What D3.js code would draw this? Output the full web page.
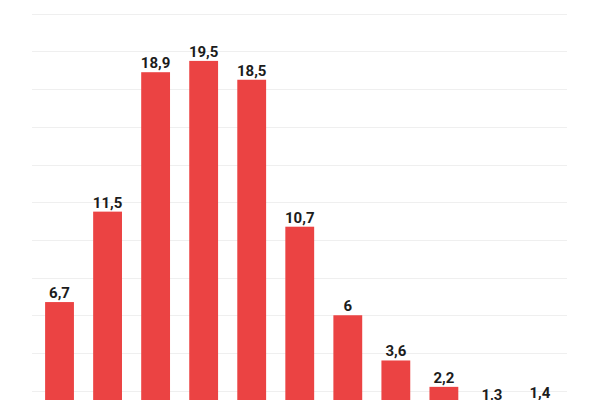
<!DOCTYPE html>
<html>
<head>
<meta charset="utf-8">
<script src="https://cdn.jsdelivr.net/npm/d3@7"></script>
<style>
  html, body { margin: 0; padding: 0; background: #ffffff; overflow: hidden; }
  svg { display: block; }
</style>
</head>
<body>
<svg id="chart" width="600" height="400"></svg>
<script>
const categories = ["1","2","3","4","5","6","7","8","9","10","11"];
const values = [6.7, 11.5, 18.9, 19.5, 18.5, 10.7, 6, 3.6, 2.2, 1.3, 1.4];
const labels = ["6,7","11,5","18,9","19,5","18,5","10,7","6","3,6","2,2","1,3","1,4"];
const yTicks = [0, 2, 4, 6, 8, 10, 12, 14, 16, 18, 20, 22];

const svg = d3.select("#chart");

const x = d3.scaleBand()
  .domain(categories)
  .range([35.5, 564])
  .paddingInner(0.4)
  .paddingOuter(0.2);

const y = d3.scaleLinear()
  .domain([0, 22])
  .range([428.3, 13.8]);

// gridlines
svg.append("g")
  .selectAll("line")
  .data(yTicks)
  .join("line")
  .attr("x1", 32)
  .attr("x2", 567)
  .attr("y1", d => Math.round(y(d)) + 0.5)
  .attr("y2", d => Math.round(y(d)) + 0.5)
  .attr("stroke", "#efefef")
  .attr("stroke-width", 1);

// bars
svg.append("g")
  .selectAll("rect")
  .data(values)
  .join("rect")
  .attr("x", (d, i) => x(categories[i]))
  .attr("width", x.bandwidth())
  .attr("y", d => y(d))
  .attr("height", d => y(0) - y(d))
  .attr("fill", "#eb4343");

// labels
svg.append("g")
  .selectAll("text")
  .data(values)
  .join("text")
  .attr("x", (d, i) => x(categories[i]) + x.bandwidth() / 2)
  .attr("y", d => y(d) - 4)
  .attr("text-anchor", "middle")
  .attr("font-family", "Roboto, 'Noto Sans', sans-serif")
  .attr("font-weight", "bold")
  .attr("font-size", "15px")
  .attr("fill", "#1c1c1c")
  .text((d, i) => labels[i]);
</script>
</body>
</html>
